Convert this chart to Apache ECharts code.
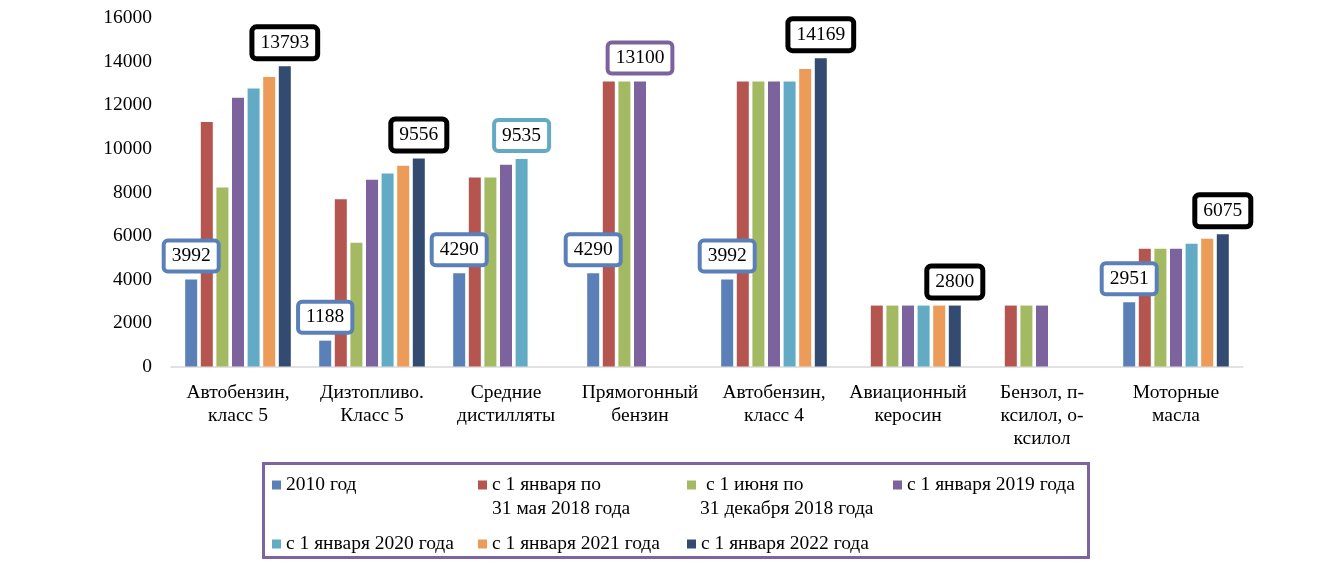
<!DOCTYPE html>
<html>
<head>
<meta charset="utf-8">
<script src="https://cdn.jsdelivr.net/npm/echarts@6/dist/echarts.min.js"></script>
<style>
html,body{margin:0;padding:0;background:#fff;}
#chart{width:1340px;height:578px;}
</style>
</head>
<body>
<div id="chart"></div>
<script>
var categories = ["Автобензин,\nкласс 5", "Дизтопливо.\nКласс 5", "Средние\nдистилляты", "Прямогонный\nбензин", "Автобензин,\nкласс 4", "Авиационный\nкеросин", "Бензол, п-\nксилол, о-\nксилол", "Моторные\nмасла"];

var s2010   = [3992, 1188, 4290, 4290, 3992, null, null, 2951];
var sJan18  = [11230, 7690, 8690, 13100, 13100, 2800, 2800, 5410];
var sJun18  = [8230, 5690, 8690, 13100, 13100, 2800, 2800, 5410];
var s2019   = [12350, 8580, 9270, 13100, 13100, 2800, 2800, 5410];
var s2020   = [12780, 8870, 9535, null, 13100, 2800, null, 5640];
var s2021   = [13300, 9220, null, null, 13670, 2800, null, 5870];
var s2022   = [13793, 9556, null, null, 14169, 2800, null, 6075];

var legendLines = [
  ["2010 год"],
  ["с 1 января по", "31 мая 2018 года"],
  [" с 1 июня по", "31 декабря 2018 года"],
  ["с 1 января 2019 года"],
  ["с 1 января 2020 года"],
  ["с 1 января 2021 года"],
  ["с 1 января 2022 года"]
];

var yTicks = [0, 2000, 4000, 6000, 8000, 10000, 12000, 14000, 16000];

// which points carry a value label (series index -> category indices)
var labelled = {0: [0, 1, 2, 3, 4, 7], 3: [3], 4: [2], 6: [0, 1, 4, 5, 7]};

var seriesValues = [s2010, sJan18, sJun18, s2019, s2020, s2021, s2022];
var colors = ["#5B80B8", "#B5554F", "#A3BA63", "#7D639E", "#63ABC5", "#EC9B58", "#334B70"];
var labelBorder = {0: "#5B80B8", 3: "#7D639E", 4: "#63ABC5", 6: "#000000"};
var FONT = "'Liberation Serif', 'Times New Roman', serif";

var names = legendLines.map(function (l) { return l.join(" ").trim(); });

var series = seriesValues.map(function (vals, si) {
  var lab = labelled[si] || [];
  var bw = si === 6 ? 5 : 4;
  return {
    type: "bar",
    name: names[si],
    barWidth: 12,
    barGap: "30%",
    itemStyle: {color: colors[si]},
    data: vals.map(function (v, ci) {
      if (lab.indexOf(ci) >= 0 && v != null) {
        return {
          value: v,
          label: {
            show: true,
            position: "top",
            distance: 10,
            fontFamily: FONT,
            fontSize: 19.5,
            color: "#000",
            lineHeight: 21,
            backgroundColor: "#fff",
            borderColor: labelBorder[si],
            borderWidth: bw,
            borderRadius: 2,
            padding: [3, 6, 3, 6],
            formatter: function (p) { return String(p.value); }
          }
        };
      }
      return v;
    })
  };
});

var colLeft = [272, 478, 687, 893];
var rowTop = [474, 533];
var legends = names.map(function (n, i) {
  var r = i < 4 ? 0 : 1;
  var c = i < 4 ? i : i - 4;
  return {
    data: [n],
    left: colLeft[c],
    top: rowTop[r],
    padding: 0,
    itemWidth: 9,
    itemHeight: 9,
    icon: "rect",
    selectedMode: false,
    formatter: function () { return legendLines[i][0]; },
    textStyle: {fontFamily: FONT, fontSize: 19.5, color: "#000", lineHeight: 22}
  };
});

var graphics = [{
  type: "rect",
  shape: {x: 263.5, y: 463.5, width: 825, height: 94},
  style: {fill: "none", stroke: "#7F63A1", lineWidth: 3},
  silent: true
}];
[[1, 492], [2, 700]].forEach(function (p) {
  graphics.push({
    type: "text",
    left: p[1],
    top: 499,
    style: {text: legendLines[p[0]][1], font: "19.5px " + FONT, fill: "#000"},
    silent: true
  });
});

var chart = echarts.init(document.getElementById("chart"));
chart.setOption({
  animation: false,
  backgroundColor: "#fff",
  textStyle: {fontFamily: FONT, color: "#000"},
  grid: {left: 171, right: 97, top: 18.3, bottom: 211.5, containLabel: false},
  legend: legends,
  graphic: graphics,
  xAxis: {
    type: "category",
    data: categories,
    axisLine: {show: true, lineStyle: {color: "#D9D9D9", width: 1.5}},
    axisTick: {show: false},
    axisLabel: {fontFamily: FONT, fontSize: 19.5, color: "#000", lineHeight: 23, margin: 15, interval: 0}
  },
  yAxis: {
    type: "value",
    min: yTicks[0],
    max: yTicks[yTicks.length - 1],
    interval: yTicks[1] - yTicks[0],
    axisLine: {show: false},
    axisTick: {show: false},
    splitLine: {show: false},
    axisLabel: {fontFamily: FONT, fontSize: 19.5, color: "#000", margin: 19,
      formatter: function (v) { return String(v); }}
  },
  series: series
});
</script>
</body>
</html>
